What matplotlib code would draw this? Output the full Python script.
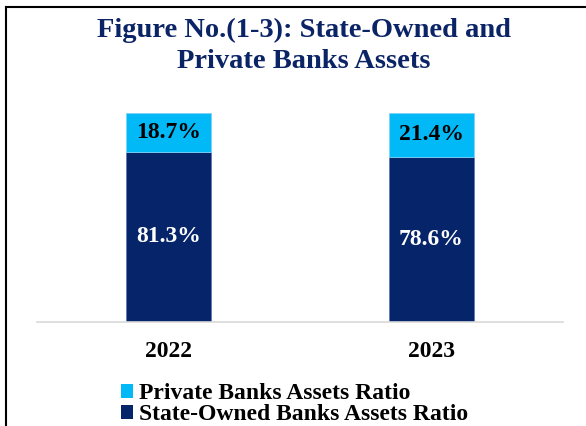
import matplotlib
matplotlib.use('Agg')
import matplotlib.pyplot as plt
from matplotlib.lines import Line2D
from matplotlib.patches import Patch

# Asset shares (%) by year
years = ['2022', '2023']
state_owned = [81.3, 78.6]
private = [18.7, 21.4]

NAVY = '#06246a'
LIGHT_BLUE = '#00b9f6'
TITLE_COLOR = '#0b2466'
SERIF = ['Liberation Serif', 'DejaVu Serif']

W, H = 586, 426
fig = plt.figure(figsize=(W / 100, H / 100), dpi=100)
fig.patch.set_facecolor('white')


def px(x, y):
    """pixel position (top-left origin) -> figure fraction"""
    return x / W, 1 - y / H


# frame around the chart (left and top edges)
fig.add_artist(Line2D([5.5 / W, 5.5 / W], [0, 1 - 7 / H], color='black',
                      lw=1.5, transform=fig.transFigure))
fig.add_artist(Line2D([5.5 / W, 1], [1 - 7 / H, 1 - 7 / H], color='black',
                      lw=1.5, transform=fig.transFigure))

ax = fig.add_axes([37 / W, 1 - 321.5 / H, 526 / W, 209 / H])
xpos = list(range(len(years)))
bar_w = 0.32
ax.bar(xpos, state_owned, width=bar_w, color=NAVY, edgecolor='#5f78b0',
       linewidth=0.6, zorder=2)
ax.bar(xpos, private, width=bar_w, bottom=state_owned, color=LIGHT_BLUE,
       edgecolor='#7fd3f5', linewidth=0.6, zorder=2)

for x, s, p in zip(xpos, state_owned, private):
    ax.text(x, s / 2, f'{s}%', ha='center', va='center', color='white',
            fontsize=17, fontweight='bold', family=SERIF)
    ax.text(x, s + p / 2, f'{p}%', ha='center', va='center', color='black',
            fontsize=17, fontweight='bold', family=SERIF)

ax.set_xlim(-0.5, 1.5)
ax.set_ylim(0, 100)
for side in ['top', 'right', 'left']:
    ax.spines[side].set_visible(False)
ax.spines['bottom'].set_color('#d9d9d9')
ax.spines['bottom'].set_linewidth(1.2)
ax.set_yticks([])
ax.set_xticks(xpos)
ax.set_xticklabels(years, fontsize=17, fontweight='bold', family=SERIF)
ax.tick_params(axis='x', length=0, pad=14)
ax.set_facecolor('none')

fig.text(*px(304, 18), 'Figure No.(1-3): State-Owned and\nPrivate Banks Assets',
         ha='center', va='top', fontsize=20.5, fontweight='bold',
         color=TITLE_COLOR, family=SERIF, linespacing=1.32)

handles = [Patch(facecolor=LIGHT_BLUE, label='Private Banks Assets Ratio'),
           Patch(facecolor=NAVY, label='State-Owned Banks Assets Ratio')]
fig.legend(handles=handles, loc='upper left', bbox_to_anchor=px(112, 374),
           frameon=False, handlelength=0.5, handleheight=0.5,
           handletextpad=0.25, labelspacing=0.0, borderaxespad=0,
           prop={'family': SERIF, 'weight': 'bold', 'size': 17})

fig.savefig('out.png', dpi=100, facecolor='white')
